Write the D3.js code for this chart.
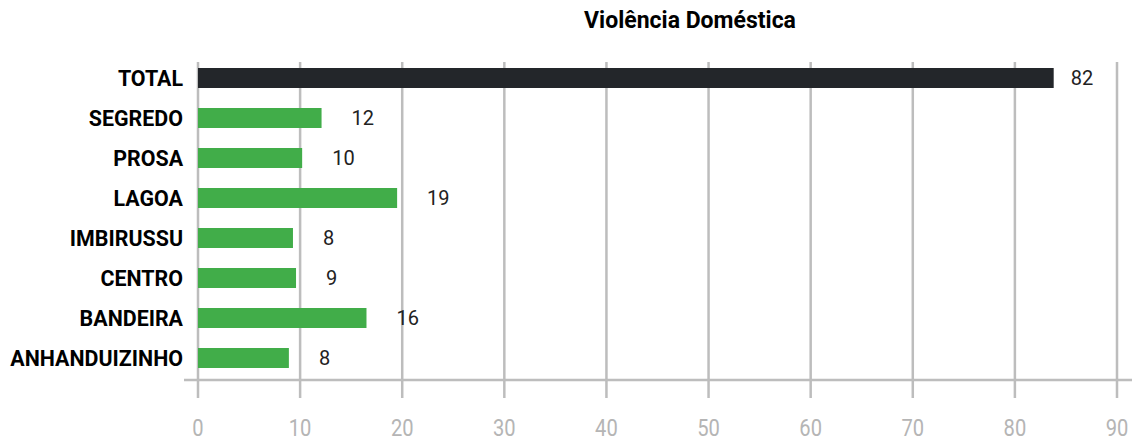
<!DOCTYPE html>
<html>
<head>
<meta charset="utf-8">
<script src="https://cdn.jsdelivr.net/npm/d3@7"></script>
<style>
  body { margin: 0; background: #fff; }
  text { font-family: Roboto, "Noto Sans", sans-serif; }
</style>
</head>
<body>
<div id="chart"></div>
<script>
// chart data
var categories = ["TOTAL", "SEGREDO", "PROSA", "LAGOA", "IMBIRUSSU", "CENTRO", "BANDEIRA", "ANHANDUIZINHO"];
var barValues = [83.8, 12.1, 10.2, 19.5, 9.3, 9.6, 16.5, 8.9]; // bar lengths as drawn
var labels = ["82", "12", "10", "19", "8", "9", "16", "8"];
var ticks = [0, 10, 20, 30, 40, 50, 60, 70, 80, 90];
var title = "Violência Doméstica";

var width = 1137, height = 441;
var green = "#41ad49", dark = "#23262a", grid = "#bdbdbd";

var svg = d3.select("#chart").append("svg")
  .attr("width", width)
  .attr("height", height);

var x = d3.scaleLinear().domain([0, 90]).range([198, 1117]);
var y = d3.scaleBand().domain(categories).range([58, 378])
  .paddingInner(0.5).paddingOuter(0.25);

// title
svg.append("text")
  .attr("x", 690).attr("y", 28)
  .attr("text-anchor", "middle")
  .attr("fill", "#000")
  .style("font-size", "23px").style("font-weight", "bold")
  .text(title);

// vertical grid lines
svg.append("g").selectAll("line")
  .data(ticks).enter().append("line")
  .attr("x1", function (d) { return x(d); })
  .attr("x2", function (d) { return x(d); })
  .attr("y1", 62).attr("y2", 398)
  .attr("stroke", grid).attr("stroke-width", 2.5);

// baseline
svg.append("line")
  .attr("x1", 184).attr("x2", 1132)
  .attr("y1", 380).attr("y2", 380)
  .attr("stroke", grid).attr("stroke-width", 2.5);

// tick labels (narrow glyphs, so squeeze a bit)
svg.append("g").selectAll("text")
  .data(ticks).enter().append("text")
  .attr("transform", function (d) { return "translate(" + x(d) + ",436) scale(0.84,1)"; })
  .attr("text-anchor", "middle")
  .attr("fill", "#b5b5b5")
  .style("font-size", "24px")
  .text(function (d) { return d; });

// bars
svg.append("g").selectAll("rect")
  .data(categories).enter().append("rect")
  .attr("x", x(0))
  .attr("y", function (d) { return y(d); })
  .attr("width", function (d, i) { return x(barValues[i]) - x(0); })
  .attr("height", y.bandwidth())
  .attr("fill", function (d, i) { return i === 0 ? dark : green; });

// category labels
svg.append("g").selectAll("text")
  .data(categories).enter().append("text")
  .attr("x", 183)
  .attr("y", function (d) { return y(d) + y.bandwidth() / 2; })
  .attr("dy", "0.36em")
  .attr("text-anchor", "end")
  .attr("fill", "#000")
  .style("font-size", "21.4px").style("font-weight", "bold")
  .text(function (d) { return d; });

// value labels
svg.append("g").selectAll("text")
  .data(categories).enter().append("text")
  .attr("x", function (d, i) { return x(barValues[i]) + (i === 0 ? 17 : 30); })
  .attr("y", function (d) { return y(d) + y.bandwidth() / 2; })
  .attr("dy", "0.36em")
  .attr("fill", "#222")
  .style("font-size", "20px")
  .text(function (d, i) { return labels[i]; });
</script>
</body>
</html>
